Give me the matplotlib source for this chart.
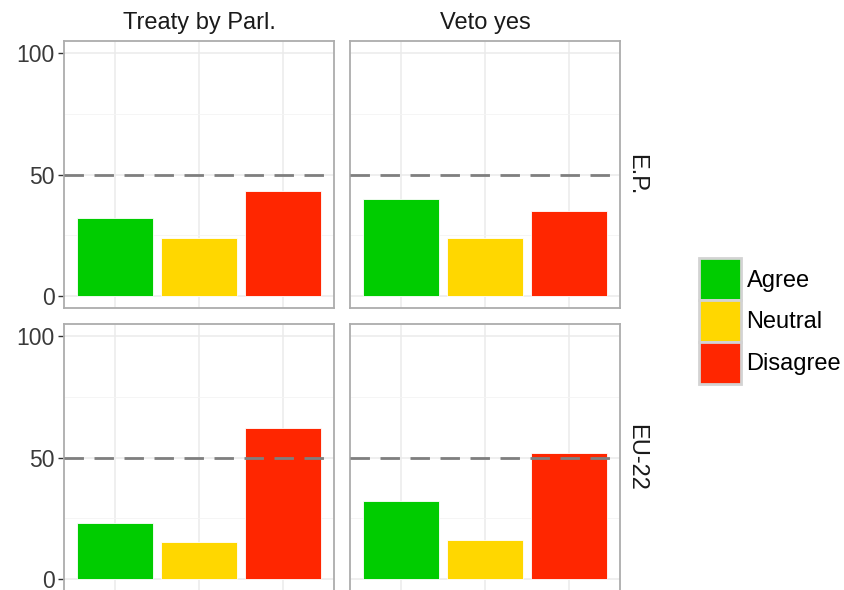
import matplotlib.pyplot as plt
from matplotlib.patches import Patch

# responses, one list per facet (percent)
categories = ['Agree', 'Neutral', 'Disagree']
col_labels = ['Treaty by Parl.', 'Veto yes']
row_labels = ['E.P.', 'EU-22']
ep_treaty = [32, 24, 43]
ep_veto = [40, 24, 35]
eu_treaty = [23, 15, 62]
eu_veto = [32, 16, 52]
threshold = 50

colors = ['#00CC00', '#FFD700', '#FF2600']
values = [[ep_treaty, ep_veto], [eu_treaty, eu_veto]]

plt.rcParams['font.family'] = ['Liberation Sans', 'DejaVu Sans']
W, H = 844, 590
fig = plt.figure(figsize=(W / 100, H / 100), dpi=100)

# panel boxes in pixels: (left, top, width, height)
lefts = [64, 350]
tops = [41, 324]
pw, ph = 270, 267

axes = []
for r in range(2):
    for c in range(2):
        ax = fig.add_axes([lefts[c] / W, 1 - (tops[r] + ph) / H, pw / W, ph / H])
        x = range(len(categories))
        ax.bar(x, values[r][c], width=0.9, color=colors, edgecolor='white', linewidth=0.6, zorder=2)
        ax.axhline(threshold, color='#7F7F7F', linewidth=2.0, linestyle=(0, (7, 3.8)), zorder=3)
        ax.set_xlim(-0.6, 2.6)
        ax.set_ylim(-5, 105)
        ax.set_xticks(list(x))
        ax.set_xticklabels([])
        ax.set_yticks([0, 50, 100])
        ax.set_yticks([25, 75], minor=True)
        ax.grid(True, which='major', color='#EBEBEB', linewidth=1.1, zorder=0)
        ax.grid(True, which='minor', axis='y', color='#F4F4F4', linewidth=0.6, zorder=0)
        ax.set_axisbelow(True)
        ax.tick_params(axis='x', length=0)
        ax.tick_params(axis='y', which='major', length=4.5, width=1.0, color='#333333',
                       labelsize=16.5, labelcolor='#3A3A3A', pad=2)
        ax.tick_params(axis='y', which='minor', length=0)
        if c == 1:
            ax.set_yticklabels([])
            ax.tick_params(axis='y', which='major', length=0)
        for s in ax.spines.values():
            s.set_color('#ADADAD')
            s.set_linewidth(1.3)
        if r == 0:
            ax.set_title(col_labels[c], fontsize=17, color='#1A1A1A', pad=9)
        if c == 1:
            ax.text(1.06, 0.5, row_labels[r], transform=ax.transAxes, rotation=-90,
                    ha='center', va='center', fontsize=17, color='#1A1A1A')
        axes.append(ax)

handles = [Patch(facecolor=col, edgecolor='#D3D3D3', linewidth=2) for col in colors]
fig.legend(handles, categories, loc='center left', bbox_to_anchor=(699 / W, 1 - 321 / H),
           frameon=False, fontsize=17, handlelength=1.76, handleheight=2.34,
           labelspacing=0.0, handletextpad=0.25, borderpad=0, borderaxespad=0)

fig.savefig('out.png', dpi=100)
